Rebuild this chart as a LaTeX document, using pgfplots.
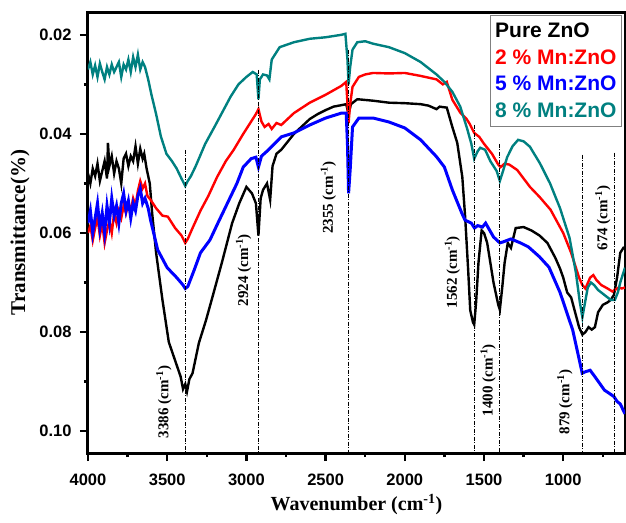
\documentclass[border=0pt]{standalone}
\usepackage{pgfplots}
\pgfplotsset{compat=1.18}
\usepackage{fontspec}
\setmainfont{Liberation Serif}
\newfontfamily\arialfont{Liberation Sans}
\definecolor{tealc}{RGB}{0,128,128}
\begin{document}
\begin{tikzpicture}
\useasboundingbox (-88pt,-69pt) rectangle (538pt,453pt);
\begin{axis}[
 at={(0pt,0pt)}, anchor=south west,
 scale only axis, width=537pt, height=441pt,
 x dir=reverse, y dir=reverse,
 xmin=610, xmax=4000, ymin=0.0154, ymax=0.1044,
 xtick={1000,1500,2000,2500,3000,3500,4000},
 minor xtick={750,1250,1750,2250,2750,3250,3750},
 ytick={0.02,0.04,0.06,0.08,0.10},
 minor ytick={0.03,0.05,0.07,0.09},
 scaled y ticks=false,
 yticklabel style={/pgf/number format/.cd, fixed, fixed zerofill, precision=2},
 xticklabel style={/pgf/number format/1000 sep={}},
 /pgf/number format/assume math mode=true,
 ticklabel style={font=\arialfont\bfseries\fontsize{16.5}{18}\selectfont},
 xticklabel shift=9pt, yticklabel shift=5pt,
 xtick pos=bottom, ytick pos=left,
 tick align=outside,
 major tick length=8pt, minor tick length=4pt,
 every tick/.append style={line width=2.5pt, black},
 axis line style={line width=3pt},
 xlabel={Wavenumber (cm\textsuperscript{-1})},
 ylabel={Transmittance(\%)},
 xlabel style={font=\bfseries\fontsize{20}{24}\selectfont, yshift=-2pt},
 ylabel style={font=\bfseries\fontsize{21}{24}\selectfont, yshift=3pt},
 legend image code/.code={},
 legend cell align=left,
 legend style={at={(1,1)}, anchor=north east, xshift=-3pt, yshift=-3pt,
   draw=gray, line width=1pt, font=\arialfont\bfseries\fontsize{21}{24}\selectfont,
   nodes={inner ysep=5.3pt, inner xsep=2pt}},
]
% Pure ZnO
\addplot[black, line width=2.4pt] coordinates {
(4000,0.0480)(3985,0.0500)(3970,0.0470)(3955,0.0485)(3940,0.0460)(3925,0.0495)(3910,0.0475)(3895,0.0455)(3880,0.0490)(3874,0.0418)(3865,0.0465)(3850,0.0445)(3835,0.0480)(3820,0.0455)(3805,0.0470)(3790,0.0500)(3775,0.0450)(3760,0.0440)(3745,0.0465)(3730,0.0445)(3715,0.0455)(3700,0.0425)(3685,0.0460)(3670,0.0430)(3655,0.0450)(3645,0.0440)(3630,0.0470)(3610,0.0500)(3595,0.0560)(3570,0.0640)(3530,0.0735)(3490,0.0820)(3445,0.0862)(3415,0.0890)(3400,0.0915)(3386,0.0905)(3375,0.0920)(3360,0.0895)(3340,0.0883)(3300,0.0822)(3255,0.0776)(3215,0.0730)(3155,0.0660)(3090,0.0580)(3045,0.0540)(3000,0.0507)(2965,0.0520)(2940,0.0540)(2924,0.0605)(2910,0.0530)(2895,0.0513)(2870,0.0500)(2850,0.0533)(2835,0.0465)(2810,0.0440)(2780,0.0432)(2750,0.0420)(2700,0.0400)(2650,0.0385)(2600,0.0370)(2550,0.0360)(2500,0.0352)(2450,0.0345)(2400,0.0342)(2370,0.0340)(2355,0.0360)(2340,0.0340)(2300,0.0330)(2200,0.0333)(2100,0.0337)(2000,0.0338)(1900,0.0340)(1850,0.0343)(1800,0.0350)(1780,0.0345)(1735,0.0347)(1700,0.0386)(1669,0.0418)(1637,0.0487)(1619,0.0568)(1600,0.0675)(1587,0.0756)(1570,0.0780)(1562,0.0785)(1550,0.0740)(1535,0.0660)(1515,0.0595)(1500,0.0600)(1480,0.0620)(1440,0.0700)(1410,0.0745)(1400,0.0755)(1385,0.0710)(1370,0.0660)(1350,0.0620)(1330,0.0630)(1300,0.0590)(1250,0.0588)(1200,0.0595)(1150,0.0605)(1100,0.0620)(1050,0.0650)(1020,0.0672)(1000,0.0690)(975,0.0720)(950,0.0730)(925,0.0760)(900,0.0790)(879,0.0805)(860,0.0800)(840,0.0790)(820,0.0795)(800,0.0790)(780,0.0760)(750,0.0745)(720,0.0740)(700,0.0735)(680,0.0725)(660,0.0690)(640,0.0640)(620,0.0630)(610,0.0632)
};
\addlegendentry{Pure ZnO}
% 2 %
\addplot[red, line width=2.4pt] coordinates {
(4000,0.0600)(3985,0.0585)(3970,0.0615)(3955,0.0590)(3940,0.0570)(3925,0.0605)(3910,0.0580)(3895,0.0620)(3880,0.0595)(3865,0.0575)(3850,0.0600)(3835,0.0560)(3820,0.0580)(3805,0.0555)(3790,0.0570)(3775,0.0545)(3760,0.0560)(3745,0.0540)(3730,0.0555)(3715,0.0530)(3700,0.0545)(3685,0.0515)(3670,0.0495)(3655,0.0510)(3640,0.0500)(3625,0.0525)(3605,0.0533)(3570,0.0550)(3530,0.0565)(3496,0.0567)(3450,0.0590)(3410,0.0605)(3386,0.0620)(3370,0.0612)(3340,0.0590)(3290,0.0555)(3240,0.0525)(3185,0.0487)(3130,0.0455)(3080,0.0432)(3020,0.0400)(2970,0.0375)(2940,0.0360)(2924,0.0350)(2905,0.0375)(2885,0.0386)(2860,0.0380)(2840,0.0390)(2810,0.0378)(2780,0.0382)(2700,0.0358)(2600,0.0337)(2500,0.0321)(2400,0.0303)(2370,0.0295)(2355,0.0378)(2345,0.0340)(2330,0.0305)(2290,0.0285)(2250,0.0280)(2200,0.0277)(2100,0.0278)(2000,0.0277)(1900,0.0283)(1800,0.0290)(1760,0.0300)(1735,0.0295)(1700,0.0331)(1650,0.0357)(1610,0.0370)(1590,0.0380)(1562,0.0398)(1530,0.0406)(1500,0.0420)(1450,0.0440)(1410,0.0462)(1395,0.0467)(1370,0.0460)(1340,0.0462)(1290,0.0473)(1210,0.0507)(1150,0.0527)(1080,0.0553)(1000,0.0600)(950,0.0640)(900,0.0690)(879,0.0705)(860,0.0712)(830,0.0690)(810,0.0685)(790,0.0695)(760,0.0705)(720,0.0712)(690,0.0718)(674,0.0715)(650,0.0710)(630,0.0712)(610,0.0710)
};
\addlegendentry{\textcolor{red}{2 \% Mn:ZnO}}
% 5 %
\addplot[blue, line width=3pt] coordinates {
(4000,0.0580)(3985,0.0555)(3970,0.0600)(3955,0.0570)(3940,0.0540)(3925,0.0590)(3910,0.0560)(3895,0.0600)(3880,0.0545)(3865,0.0580)(3850,0.0530)(3835,0.0565)(3820,0.0545)(3805,0.0580)(3790,0.0540)(3775,0.0520)(3760,0.0555)(3745,0.0535)(3730,0.0570)(3715,0.0540)(3700,0.0555)(3685,0.0525)(3670,0.0510)(3655,0.0540)(3640,0.0530)(3620,0.0550)(3605,0.0574)(3560,0.0634)(3500,0.0670)(3440,0.0690)(3400,0.0705)(3386,0.0712)(3370,0.0708)(3330,0.0675)(3290,0.0640)(3230,0.0614)(3180,0.0580)(3120,0.0540)(3060,0.0500)(3020,0.0467)(2970,0.0450)(2940,0.0447)(2924,0.0467)(2905,0.0445)(2860,0.0432)(2780,0.0406)(2700,0.0398)(2600,0.0382)(2500,0.0368)(2400,0.0358)(2370,0.0358)(2362,0.0420)(2355,0.0520)(2345,0.0473)(2330,0.0386)(2290,0.0368)(2200,0.0368)(2100,0.0376)(2000,0.0388)(1900,0.0412)(1800,0.0446)(1750,0.0467)(1700,0.0513)(1640,0.0560)(1620,0.0574)(1580,0.0580)(1560,0.0590)(1540,0.0585)(1510,0.0588)(1490,0.0580)(1440,0.0608)(1400,0.0620)(1380,0.0618)(1330,0.0612)(1270,0.0620)(1220,0.0628)(1150,0.0648)(1090,0.0669)(1020,0.0720)(940,0.0796)(880,0.0883)(860,0.0880)(830,0.0877)(800,0.0890)(740,0.0917)(680,0.0930)(660,0.0940)(640,0.0945)(625,0.0955)(610,0.0965)
};
\addlegendentry{\textcolor{blue}{5 \% Mn:ZnO}}
% 8 %
\addplot[tealc, line width=2.4pt] coordinates {
(4000,0.0270)(3985,0.0255)(3970,0.0280)(3955,0.0262)(3940,0.0285)(3925,0.0258)(3910,0.0275)(3895,0.0290)(3880,0.0265)(3865,0.0280)(3850,0.0260)(3835,0.0275)(3820,0.0265)(3805,0.0255)(3790,0.0285)(3775,0.0260)(3760,0.0270)(3745,0.0250)(3730,0.0275)(3715,0.0245)(3700,0.0265)(3685,0.0240)(3670,0.0270)(3655,0.0255)(3640,0.0265)(3620,0.0290)(3600,0.0320)(3570,0.0360)(3540,0.0405)(3505,0.0440)(3470,0.0455)(3440,0.0470)(3410,0.0490)(3386,0.0505)(3370,0.0495)(3350,0.0485)(3320,0.0465)(3260,0.0420)(3200,0.0385)(3150,0.0355)(3100,0.0325)(3050,0.0300)(3000,0.0285)(2960,0.0275)(2935,0.0280)(2924,0.0330)(2915,0.0290)(2895,0.0280)(2870,0.0282)(2855,0.0290)(2840,0.0250)(2810,0.0235)(2790,0.0225)(2700,0.0215)(2600,0.0208)(2500,0.0205)(2400,0.0200)(2375,0.0198)(2362,0.0250)(2355,0.0300)(2345,0.0265)(2330,0.0230)(2300,0.0215)(2250,0.0213)(2200,0.0218)(2100,0.0225)(2000,0.0237)(1900,0.0255)(1800,0.0280)(1750,0.0295)(1700,0.0315)(1650,0.0345)(1606,0.0390)(1580,0.0420)(1562,0.0450)(1540,0.0435)(1524,0.0428)(1493,0.0432)(1460,0.0455)(1420,0.0475)(1400,0.0495)(1380,0.0475)(1354,0.0447)(1320,0.0425)(1285,0.0412)(1250,0.0415)(1210,0.0426)(1146,0.0460)(1083,0.0500)(1020,0.0550)(960,0.0610)(920,0.0680)(895,0.0740)(879,0.0770)(865,0.0745)(845,0.0710)(825,0.0700)(805,0.0705)(780,0.0715)(740,0.0725)(700,0.0735)(674,0.0735)(655,0.0720)(640,0.0700)(620,0.0680)(610,0.0670)
};
\addlegendentry{\textcolor{tealc}{8 \% Mn:ZnO}}
% reference lines
\pgfplotsset{every axis plot/.append style={forget plot}}
\addplot[black, line width=0.8pt, dash pattern=on 4pt off 1.5pt on 1pt off 1.5pt] coordinates {(3386,0.0432)(3386,0.1044)};
\addplot[black, line width=0.8pt, dash pattern=on 4pt off 1.5pt on 1pt off 1.5pt] coordinates {(2924,0.0271)(2924,0.1044)};
\addplot[black, line width=0.8pt, dash pattern=on 4pt off 1.5pt on 1pt off 1.5pt] coordinates {(2355,0.0230)(2355,0.1044)};
\addplot[black, line width=0.8pt, dash pattern=on 4pt off 1.5pt on 1pt off 1.5pt] coordinates {(1562,0.0382)(1562,0.1044)};
\addplot[black, line width=0.8pt, dash pattern=on 4pt off 1.5pt on 1pt off 1.5pt] coordinates {(1400,0.0420)(1400,0.1044)};
\addplot[black, line width=0.8pt, dash pattern=on 4pt off 1.5pt on 1pt off 1.5pt] coordinates {(879,0.0442)(879,0.1044)};
\addplot[black, line width=0.8pt, dash pattern=on 4pt off 1.5pt on 1pt off 1.5pt] coordinates {(674,0.0438)(674,0.1044)};
\begin{scope}[every node/.style={rotate=90, font=\bfseries\fontsize{15}{18}\selectfont}]
\node at (axis cs:3521,0.0941) {3386 (cm\textsuperscript{-1})};
\node at (axis cs:3017,0.0675) {2924 (cm\textsuperscript{-1})};
\node at (axis cs:2482,0.0529) {2355 (cm\textsuperscript{-1})};
\node at (axis cs:1700,0.0679) {1562 (cm\textsuperscript{-1})};
\node at (axis cs:1474,0.0897) {1400 (cm\textsuperscript{-1})};
\node at (axis cs:989,0.0941) {879 (cm\textsuperscript{-1})};
\node at (axis cs:749,0.0570) {674 (cm\textsuperscript{-1})};
\end{scope}
\end{axis}
\end{tikzpicture}
\end{document}
